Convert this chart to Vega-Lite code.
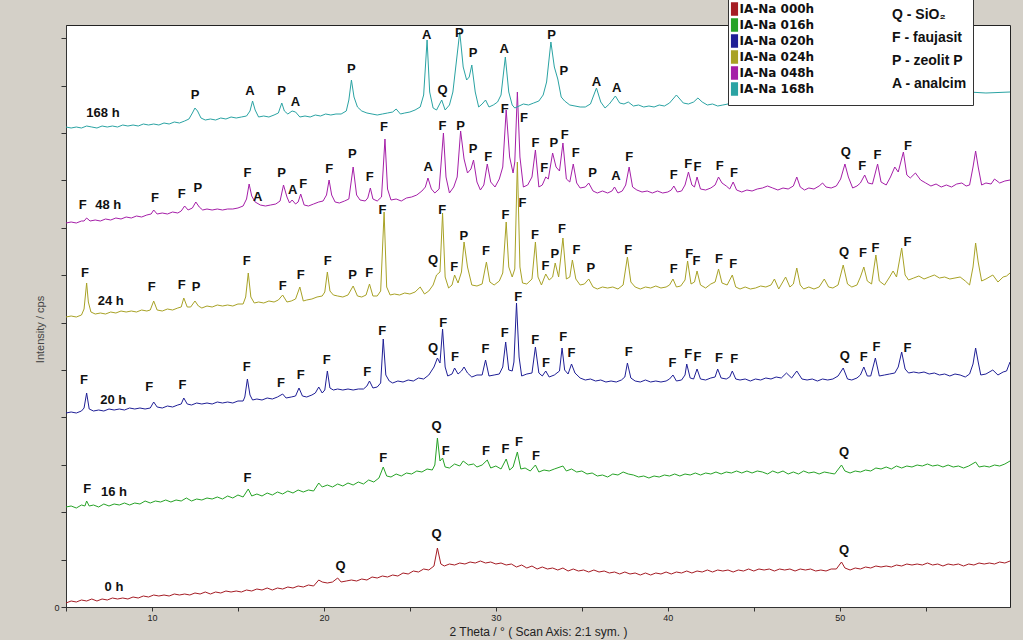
{
"$schema": "https://vega.github.io/schema/vega-lite/v6.json",
"width": 944, "height": 582,
"autosize": {"type": "none"},
"padding": {"left": 66, "top": 25, "right": 13, "bottom": 33},
"background": "#d4d0c8",
"config": {"view": {"fill": "white", "stroke": "#222", "strokeWidth": 1}},
"datasets": {
"d000": [{"x":5.0,"y":4},{"x":5.3,"y":6},{"x":5.6,"y":5},{"x":5.9,"y":7},{"x":6.2,"y":6},{"x":6.5,"y":8},{"x":6.8,"y":6},{"x":7.1,"y":8},{"x":7.4,"y":7},{"x":7.7,"y":9},{"x":8.0,"y":8},{"x":8.3,"y":9},{"x":8.6,"y":8},{"x":8.9,"y":10},{"x":9.2,"y":9},{"x":9.5,"y":11},{"x":9.8,"y":10},{"x":10.1,"y":12},{"x":10.4,"y":11},{"x":10.7,"y":12},{"x":11.0,"y":11},{"x":11.3,"y":13},{"x":11.6,"y":12},{"x":11.9,"y":13},{"x":12.2,"y":12},{"x":12.5,"y":14},{"x":12.8,"y":13},{"x":13.1,"y":15},{"x":13.4,"y":13},{"x":13.7,"y":15},{"x":14.0,"y":14},{"x":14.3,"y":16},{"x":14.6,"y":15},{"x":14.9,"y":16},{"x":15.2,"y":15},{"x":15.5,"y":17},{"x":15.8,"y":16},{"x":16.1,"y":18},{"x":16.4,"y":17},{"x":16.7,"y":19},{"x":17.0,"y":17},{"x":17.3,"y":19},{"x":17.6,"y":18},{"x":17.9,"y":20},{"x":18.2,"y":19},{"x":18.5,"y":21},{"x":18.8,"y":20},{"x":19.1,"y":22},{"x":19.4,"y":21},{"x":19.7,"y":27},{"x":19.9,"y":25},{"x":20.2,"y":24},{"x":20.5,"y":25},{"x":20.8,"y":29},{"x":21.0,"y":25},{"x":21.3,"y":26},{"x":21.6,"y":27},{"x":21.9,"y":26},{"x":22.2,"y":28},{"x":22.5,"y":27},{"x":22.8,"y":30},{"x":23.1,"y":29},{"x":23.4,"y":31},{"x":23.7,"y":30},{"x":24.0,"y":32},{"x":24.3,"y":31},{"x":24.6,"y":34},{"x":24.9,"y":33},{"x":25.2,"y":36},{"x":25.5,"y":35},{"x":25.8,"y":38},{"x":26.1,"y":37},{"x":26.4,"y":41},{"x":26.6,"y":59},{"x":26.8,"y":43},{"x":27.0,"y":41},{"x":27.3,"y":43},{"x":27.6,"y":42},{"x":27.9,"y":44},{"x":28.2,"y":43},{"x":28.5,"y":45},{"x":28.8,"y":44},{"x":29.1,"y":46},{"x":29.4,"y":44},{"x":29.7,"y":45},{"x":30.0,"y":43},{"x":30.3,"y":44},{"x":30.6,"y":42},{"x":30.9,"y":43},{"x":31.2,"y":40},{"x":31.5,"y":42},{"x":31.8,"y":39},{"x":32.1,"y":41},{"x":32.4,"y":38},{"x":32.7,"y":40},{"x":33.0,"y":38},{"x":33.3,"y":39},{"x":33.6,"y":37},{"x":33.9,"y":39},{"x":34.2,"y":36},{"x":34.5,"y":38},{"x":34.8,"y":36},{"x":35.1,"y":37},{"x":35.4,"y":35},{"x":35.7,"y":37},{"x":36.0,"y":35},{"x":36.3,"y":36},{"x":36.6,"y":34},{"x":36.9,"y":35},{"x":37.2,"y":33},{"x":37.5,"y":35},{"x":37.8,"y":33},{"x":38.1,"y":34},{"x":38.4,"y":32},{"x":38.7,"y":34},{"x":39.0,"y":32},{"x":39.3,"y":34},{"x":39.6,"y":33},{"x":39.9,"y":35},{"x":40.2,"y":33},{"x":40.5,"y":35},{"x":40.8,"y":34},{"x":41.1,"y":36},{"x":41.4,"y":34},{"x":41.7,"y":36},{"x":42.0,"y":35},{"x":42.3,"y":37},{"x":42.6,"y":35},{"x":42.9,"y":37},{"x":43.2,"y":36},{"x":43.5,"y":37},{"x":43.8,"y":35},{"x":44.1,"y":37},{"x":44.4,"y":36},{"x":44.7,"y":38},{"x":45.0,"y":36},{"x":45.3,"y":38},{"x":45.6,"y":37},{"x":45.9,"y":38},{"x":46.2,"y":36},{"x":46.5,"y":38},{"x":46.8,"y":37},{"x":47.1,"y":38},{"x":47.4,"y":36},{"x":47.7,"y":38},{"x":48.0,"y":37},{"x":48.3,"y":38},{"x":48.6,"y":36},{"x":48.9,"y":37},{"x":49.2,"y":36},{"x":49.5,"y":38},{"x":49.8,"y":38},{"x":50.1,"y":45},{"x":50.3,"y":39},{"x":50.6,"y":37},{"x":50.9,"y":39},{"x":51.2,"y":38},{"x":51.5,"y":40},{"x":51.8,"y":39},{"x":52.1,"y":41},{"x":52.4,"y":40},{"x":52.7,"y":41},{"x":53.0,"y":40},{"x":53.3,"y":42},{"x":53.6,"y":41},{"x":53.9,"y":43},{"x":54.2,"y":42},{"x":54.5,"y":43},{"x":54.8,"y":42},{"x":55.1,"y":44},{"x":55.4,"y":42},{"x":55.7,"y":43},{"x":56.0,"y":41},{"x":56.3,"y":43},{"x":56.6,"y":42},{"x":56.9,"y":43},{"x":57.2,"y":41},{"x":57.5,"y":43},{"x":57.8,"y":42},{"x":58.1,"y":44},{"x":58.4,"y":43},{"x":58.7,"y":44},{"x":59.0,"y":43},{"x":59.3,"y":45},{"x":59.6,"y":44},{"x":59.9,"y":46}],
"d016": [{"x":5.0,"y":100},{"x":5.3,"y":101},{"x":5.6,"y":99},{"x":5.9,"y":102},{"x":6.1,"y":101},{"x":6.2,"y":106},{"x":6.35,"y":101},{"x":6.6,"y":102},{"x":6.9,"y":100},{"x":7.2,"y":103},{"x":7.5,"y":101},{"x":7.8,"y":103},{"x":8.1,"y":102},{"x":8.4,"y":104},{"x":8.7,"y":102},{"x":9.0,"y":104},{"x":9.3,"y":103},{"x":9.6,"y":106},{"x":9.9,"y":104},{"x":10.2,"y":106},{"x":10.5,"y":105},{"x":10.8,"y":107},{"x":11.1,"y":105},{"x":11.4,"y":107},{"x":11.7,"y":106},{"x":12.0,"y":109},{"x":12.3,"y":106},{"x":12.6,"y":108},{"x":12.9,"y":107},{"x":13.2,"y":109},{"x":13.5,"y":108},{"x":13.8,"y":110},{"x":14.1,"y":108},{"x":14.4,"y":111},{"x":14.7,"y":109},{"x":15.0,"y":112},{"x":15.3,"y":110},{"x":15.6,"y":118},{"x":15.8,"y":111},{"x":16.1,"y":113},{"x":16.4,"y":111},{"x":16.7,"y":114},{"x":17.0,"y":112},{"x":17.3,"y":115},{"x":17.6,"y":113},{"x":17.9,"y":116},{"x":18.2,"y":114},{"x":18.5,"y":117},{"x":18.8,"y":115},{"x":19.1,"y":117},{"x":19.4,"y":116},{"x":19.7,"y":124},{"x":19.9,"y":120},{"x":20.2,"y":122},{"x":20.5,"y":120},{"x":20.8,"y":123},{"x":21.1,"y":121},{"x":21.4,"y":124},{"x":21.7,"y":122},{"x":22.0,"y":125},{"x":22.3,"y":123},{"x":22.6,"y":127},{"x":22.9,"y":125},{"x":23.2,"y":129},{"x":23.45,"y":140},{"x":23.65,"y":131},{"x":23.9,"y":130},{"x":24.2,"y":133},{"x":24.5,"y":131},{"x":24.8,"y":134},{"x":25.1,"y":133},{"x":25.4,"y":136},{"x":25.7,"y":135},{"x":26.0,"y":138},{"x":26.3,"y":137},{"x":26.45,"y":142},{"x":26.6,"y":169},{"x":26.75,"y":146},{"x":26.9,"y":149},{"x":27.05,"y":140},{"x":27.3,"y":139},{"x":27.6,"y":143},{"x":27.9,"y":141},{"x":28.1,"y":146},{"x":28.4,"y":142},{"x":28.7,"y":143},{"x":28.9,"y":140},{"x":29.2,"y":142},{"x":29.5,"y":147},{"x":29.7,"y":139},{"x":30.0,"y":141},{"x":30.3,"y":138},{"x":30.6,"y":148},{"x":30.8,"y":137},{"x":31.0,"y":140},{"x":31.25,"y":155},{"x":31.45,"y":138},{"x":31.7,"y":139},{"x":32.0,"y":136},{"x":32.3,"y":142},{"x":32.5,"y":135},{"x":32.8,"y":137},{"x":33.1,"y":136},{"x":33.4,"y":138},{"x":33.9,"y":141},{"x":34.1,"y":136},{"x":34.4,"y":138},{"x":34.7,"y":135},{"x":35.0,"y":136},{"x":35.3,"y":133},{"x":35.6,"y":134},{"x":35.9,"y":131},{"x":36.2,"y":132},{"x":36.5,"y":130},{"x":36.8,"y":133},{"x":37.1,"y":132},{"x":37.4,"y":135},{"x":37.7,"y":133},{"x":38.0,"y":132},{"x":38.3,"y":130},{"x":38.6,"y":131},{"x":38.9,"y":129},{"x":39.2,"y":131},{"x":39.5,"y":130},{"x":39.8,"y":132},{"x":40.1,"y":131},{"x":40.4,"y":133},{"x":40.7,"y":131},{"x":41.0,"y":133},{"x":41.3,"y":132},{"x":41.6,"y":134},{"x":41.9,"y":132},{"x":42.2,"y":134},{"x":42.5,"y":133},{"x":42.8,"y":135},{"x":43.1,"y":133},{"x":43.4,"y":135},{"x":43.7,"y":134},{"x":44.0,"y":136},{"x":44.3,"y":134},{"x":44.6,"y":136},{"x":44.9,"y":134},{"x":45.2,"y":136},{"x":45.5,"y":135},{"x":45.8,"y":133},{"x":46.1,"y":136},{"x":46.4,"y":134},{"x":46.7,"y":136},{"x":47.0,"y":133},{"x":47.3,"y":135},{"x":47.6,"y":133},{"x":47.9,"y":136},{"x":48.2,"y":134},{"x":48.5,"y":135},{"x":48.8,"y":133},{"x":49.1,"y":135},{"x":49.4,"y":134},{"x":49.7,"y":133},{"x":50.1,"y":142},{"x":50.3,"y":136},{"x":50.6,"y":134},{"x":50.9,"y":136},{"x":51.2,"y":135},{"x":51.5,"y":137},{"x":51.8,"y":136},{"x":52.1,"y":139},{"x":52.4,"y":138},{"x":52.7,"y":140},{"x":53.0,"y":138},{"x":53.3,"y":141},{"x":53.6,"y":139},{"x":53.9,"y":141},{"x":54.2,"y":140},{"x":54.5,"y":142},{"x":54.8,"y":141},{"x":55.1,"y":143},{"x":55.4,"y":141},{"x":55.7,"y":142},{"x":56.0,"y":140},{"x":56.3,"y":142},{"x":56.6,"y":140},{"x":56.9,"y":141},{"x":57.2,"y":139},{"x":57.5,"y":141},{"x":57.9,"y":145},{"x":58.1,"y":140},{"x":58.4,"y":141},{"x":58.7,"y":140},{"x":59.0,"y":142},{"x":59.3,"y":141},{"x":59.6,"y":143},{"x":59.9,"y":146}],
"d020": [{"x":5.0,"y":194},{"x":5.3,"y":195},{"x":5.6,"y":194},{"x":5.9,"y":196},{"x":6.05,"y":199},{"x":6.2,"y":214},{"x":6.35,"y":198},{"x":6.6,"y":196},{"x":6.9,"y":197},{"x":7.2,"y":196},{"x":7.5,"y":198},{"x":7.8,"y":197},{"x":8.1,"y":198},{"x":8.4,"y":197},{"x":8.7,"y":199},{"x":9.0,"y":198},{"x":9.3,"y":199},{"x":9.6,"y":198},{"x":9.9,"y":199},{"x":10.1,"y":205},{"x":10.3,"y":200},{"x":10.6,"y":199},{"x":10.9,"y":201},{"x":11.2,"y":200},{"x":11.5,"y":202},{"x":11.7,"y":203},{"x":11.85,"y":209},{"x":12.05,"y":203},{"x":12.3,"y":202},{"x":12.6,"y":204},{"x":12.9,"y":203},{"x":13.2,"y":204},{"x":13.5,"y":203},{"x":13.8,"y":205},{"x":14.1,"y":204},{"x":14.4,"y":205},{"x":14.7,"y":204},{"x":15.0,"y":206},{"x":15.3,"y":206},{"x":15.4,"y":210},{"x":15.55,"y":228},{"x":15.7,"y":212},{"x":15.85,"y":207},{"x":16.1,"y":208},{"x":16.4,"y":207},{"x":16.7,"y":209},{"x":17.0,"y":208},{"x":17.3,"y":210},{"x":17.6,"y":213},{"x":17.8,"y":209},{"x":18.1,"y":210},{"x":18.35,"y":211},{"x":18.55,"y":219},{"x":18.75,"y":211},{"x":19.0,"y":210},{"x":19.3,"y":212},{"x":19.5,"y":214},{"x":19.7,"y":220},{"x":19.9,"y":214},{"x":20.05,"y":217},{"x":20.2,"y":236},{"x":20.35,"y":219},{"x":20.55,"y":217},{"x":20.8,"y":218},{"x":21.1,"y":217},{"x":21.4,"y":218},{"x":21.7,"y":217},{"x":22.0,"y":218},{"x":22.3,"y":218},{"x":22.5,"y":221},{"x":22.65,"y":226},{"x":22.85,"y":219},{"x":23.1,"y":220},{"x":23.3,"y":224},{"x":23.45,"y":268},{"x":23.6,"y":232},{"x":23.8,"y":226},{"x":24.0,"y":224},{"x":24.3,"y":226},{"x":24.6,"y":225},{"x":24.9,"y":227},{"x":25.2,"y":226},{"x":25.5,"y":229},{"x":25.8,"y":228},{"x":26.1,"y":232},{"x":26.4,"y":240},{"x":26.6,"y":249},{"x":26.75,"y":244},{"x":26.9,"y":278},{"x":27.05,"y":240},{"x":27.2,"y":231},{"x":27.45,"y":233},{"x":27.6,"y":239},{"x":27.8,"y":233},{"x":28.0,"y":236},{"x":28.15,"y":240},{"x":28.35,"y":234},{"x":28.6,"y":230},{"x":28.9,"y":232},{"x":29.2,"y":232},{"x":29.4,"y":247},{"x":29.6,"y":231},{"x":29.9,"y":232},{"x":30.2,"y":233},{"x":30.4,"y":240},{"x":30.57,"y":265},{"x":30.75,"y":237},{"x":30.95,"y":236},{"x":31.05,"y":245},{"x":31.2,"y":304},{"x":31.35,"y":250},{"x":31.5,"y":231},{"x":31.8,"y":233},{"x":32.1,"y":234},{"x":32.3,"y":260},{"x":32.5,"y":234},{"x":32.7,"y":231},{"x":32.9,"y":236},{"x":33.1,"y":230},{"x":33.4,"y":232},{"x":33.7,"y":236},{"x":33.85,"y":259},{"x":34.0,"y":237},{"x":34.2,"y":233},{"x":34.4,"y":243},{"x":34.6,"y":234},{"x":34.9,"y":229},{"x":35.2,"y":227},{"x":35.5,"y":228},{"x":35.8,"y":226},{"x":36.1,"y":227},{"x":36.4,"y":225},{"x":36.7,"y":226},{"x":37.0,"y":225},{"x":37.3,"y":227},{"x":37.5,"y":230},{"x":37.65,"y":244},{"x":37.85,"y":229},{"x":38.1,"y":226},{"x":38.4,"y":225},{"x":38.7,"y":227},{"x":39.0,"y":225},{"x":39.3,"y":226},{"x":39.6,"y":225},{"x":39.9,"y":226},{"x":40.1,"y":228},{"x":40.3,"y":232},{"x":40.5,"y":226},{"x":40.8,"y":227},{"x":41.0,"y":232},{"x":41.1,"y":243},{"x":41.3,"y":229},{"x":41.5,"y":228},{"x":41.7,"y":238},{"x":41.9,"y":228},{"x":42.2,"y":227},{"x":42.5,"y":229},{"x":42.75,"y":230},{"x":42.9,"y":238},{"x":43.1,"y":229},{"x":43.4,"y":228},{"x":43.6,"y":230},{"x":43.75,"y":236},{"x":43.95,"y":228},{"x":44.2,"y":227},{"x":44.5,"y":228},{"x":44.8,"y":226},{"x":45.1,"y":228},{"x":45.4,"y":227},{"x":45.7,"y":229},{"x":46.0,"y":228},{"x":46.3,"y":230},{"x":46.6,"y":229},{"x":46.9,"y":234},{"x":47.2,"y":229},{"x":47.5,"y":236},{"x":47.8,"y":228},{"x":48.1,"y":227},{"x":48.4,"y":228},{"x":48.7,"y":226},{"x":49.0,"y":228},{"x":49.3,"y":227},{"x":49.6,"y":228},{"x":49.9,"y":231},{"x":50.2,"y":239},{"x":50.45,"y":228},{"x":50.7,"y":227},{"x":51.0,"y":229},{"x":51.2,"y":232},{"x":51.4,"y":240},{"x":51.6,"y":231},{"x":51.8,"y":231},{"x":52.07,"y":249},{"x":52.3,"y":231},{"x":52.6,"y":232},{"x":52.9,"y":233},{"x":53.2,"y":234},{"x":53.4,"y":240},{"x":53.6,"y":255},{"x":53.8,"y":238},{"x":54.0,"y":234},{"x":54.3,"y":235},{"x":54.6,"y":234},{"x":54.9,"y":235},{"x":55.2,"y":233},{"x":55.5,"y":234},{"x":55.8,"y":232},{"x":56.1,"y":233},{"x":56.4,"y":231},{"x":56.7,"y":233},{"x":57.0,"y":232},{"x":57.3,"y":230},{"x":57.55,"y":233},{"x":57.75,"y":243},{"x":57.9,"y":259},{"x":58.05,"y":245},{"x":58.2,"y":232},{"x":58.5,"y":233},{"x":58.9,"y":237},{"x":59.2,"y":232},{"x":59.5,"y":235},{"x":59.7,"y":236},{"x":59.9,"y":245}],
"d024": [{"x":5.0,"y":290},{"x":5.3,"y":291},{"x":5.6,"y":290},{"x":5.9,"y":292},{"x":6.05,"y":298},{"x":6.2,"y":324},{"x":6.3,"y":305},{"x":6.45,"y":295},{"x":6.7,"y":293},{"x":7.0,"y":294},{"x":7.3,"y":293},{"x":7.6,"y":295},{"x":7.9,"y":294},{"x":8.2,"y":296},{"x":8.5,"y":295},{"x":8.8,"y":296},{"x":9.1,"y":295},{"x":9.4,"y":297},{"x":9.7,"y":296},{"x":9.9,"y":297},{"x":10.1,"y":306},{"x":10.3,"y":297},{"x":10.6,"y":296},{"x":10.9,"y":298},{"x":11.2,"y":297},{"x":11.5,"y":299},{"x":11.7,"y":300},{"x":11.85,"y":309},{"x":12.05,"y":300},{"x":12.25,"y":300},{"x":12.5,"y":306},{"x":12.7,"y":301},{"x":12.9,"y":299},{"x":13.2,"y":301},{"x":13.5,"y":300},{"x":13.8,"y":302},{"x":14.1,"y":301},{"x":14.4,"y":302},{"x":14.7,"y":301},{"x":15.0,"y":303},{"x":15.3,"y":303},{"x":15.45,"y":310},{"x":15.6,"y":334},{"x":15.75,"y":310},{"x":15.95,"y":304},{"x":16.2,"y":305},{"x":16.5,"y":304},{"x":16.8,"y":306},{"x":17.1,"y":305},{"x":17.35,"y":307},{"x":17.6,"y":312},{"x":17.85,"y":305},{"x":18.1,"y":306},{"x":18.35,"y":308},{"x":18.6,"y":320},{"x":18.8,"y":306},{"x":19.0,"y":307},{"x":19.3,"y":308},{"x":19.6,"y":310},{"x":19.9,"y":311},{"x":20.05,"y":315},{"x":20.2,"y":335},{"x":20.35,"y":316},{"x":20.55,"y":312},{"x":20.8,"y":311},{"x":21.1,"y":310},{"x":21.4,"y":312},{"x":21.7,"y":321},{"x":21.95,"y":311},{"x":22.2,"y":310},{"x":22.45,"y":312},{"x":22.65,"y":323},{"x":22.85,"y":311},{"x":23.1,"y":311},{"x":23.3,"y":316},{"x":23.5,"y":395},{"x":23.65,"y":320},{"x":23.85,"y":312},{"x":24.1,"y":313},{"x":24.4,"y":312},{"x":24.7,"y":314},{"x":25.0,"y":313},{"x":25.3,"y":315},{"x":25.6,"y":320},{"x":25.85,"y":313},{"x":26.1,"y":316},{"x":26.35,"y":322},{"x":26.55,"y":332},{"x":26.75,"y":335},{"x":26.9,"y":394},{"x":27.05,"y":330},{"x":27.25,"y":319},{"x":27.45,"y":322},{"x":27.6,"y":332},{"x":27.8,"y":324},{"x":28.0,"y":335},{"x":28.15,"y":365},{"x":28.35,"y":340},{"x":28.6,"y":322},{"x":28.9,"y":321},{"x":29.2,"y":323},{"x":29.45,"y":345},{"x":29.65,"y":325},{"x":29.9,"y":322},{"x":30.2,"y":326},{"x":30.4,"y":334},{"x":30.6,"y":385},{"x":30.75,"y":340},{"x":30.95,"y":330},{"x":31.1,"y":338},{"x":31.25,"y":445},{"x":31.4,"y":340},{"x":31.55,"y":324},{"x":31.8,"y":323},{"x":32.1,"y":328},{"x":32.3,"y":365},{"x":32.45,"y":330},{"x":32.65,"y":322},{"x":32.9,"y":333},{"x":33.1,"y":327},{"x":33.3,"y":330},{"x":33.45,"y":344},{"x":33.65,"y":330},{"x":33.9,"y":369},{"x":34.1,"y":328},{"x":34.3,"y":330},{"x":34.45,"y":347},{"x":34.65,"y":328},{"x":34.9,"y":322},{"x":35.15,"y":323},{"x":35.4,"y":328},{"x":35.65,"y":320},{"x":35.9,"y":318},{"x":36.2,"y":320},{"x":36.5,"y":319},{"x":36.8,"y":320},{"x":37.1,"y":318},{"x":37.4,"y":322},{"x":37.65,"y":350},{"x":37.85,"y":325},{"x":38.1,"y":320},{"x":38.4,"y":318},{"x":38.7,"y":320},{"x":39.0,"y":319},{"x":39.3,"y":321},{"x":39.6,"y":319},{"x":39.9,"y":320},{"x":40.1,"y":322},{"x":40.3,"y":328},{"x":40.5,"y":320},{"x":40.75,"y":321},{"x":41.0,"y":327},{"x":41.15,"y":346},{"x":41.35,"y":323},{"x":41.55,"y":325},{"x":41.7,"y":336},{"x":41.9,"y":322},{"x":42.2,"y":319},{"x":42.5,"y":323},{"x":42.75,"y":325},{"x":42.95,"y":338},{"x":43.15,"y":324},{"x":43.45,"y":322},{"x":43.75,"y":332},{"x":43.95,"y":320},{"x":44.2,"y":318},{"x":44.5,"y":320},{"x":44.8,"y":318},{"x":45.1,"y":319},{"x":45.4,"y":321},{"x":45.7,"y":320},{"x":46.0,"y":322},{"x":46.2,"y":328},{"x":46.45,"y":318},{"x":46.85,"y":330},{"x":47.1,"y":320},{"x":47.3,"y":323},{"x":47.5,"y":339},{"x":47.7,"y":322},{"x":47.9,"y":318},{"x":48.2,"y":320},{"x":48.5,"y":318},{"x":48.8,"y":320},{"x":49.1,"y":328},{"x":49.35,"y":320},{"x":49.6,"y":319},{"x":49.9,"y":322},{"x":50.2,"y":342},{"x":50.45,"y":323},{"x":50.7,"y":320},{"x":51.0,"y":322},{"x":51.2,"y":330},{"x":51.4,"y":340},{"x":51.6,"y":326},{"x":51.85,"y":323},{"x":52.1,"y":352},{"x":52.3,"y":326},{"x":52.6,"y":322},{"x":52.9,"y":330},{"x":53.1,"y":336},{"x":53.3,"y":330},{"x":53.6,"y":359},{"x":53.8,"y":332},{"x":54.0,"y":327},{"x":54.3,"y":329},{"x":54.6,"y":331},{"x":54.9,"y":328},{"x":55.2,"y":330},{"x":55.5,"y":332},{"x":55.8,"y":329},{"x":56.1,"y":330},{"x":56.4,"y":328},{"x":56.7,"y":329},{"x":57.0,"y":330},{"x":57.3,"y":326},{"x":57.55,"y":322},{"x":57.75,"y":340},{"x":57.9,"y":364},{"x":58.05,"y":345},{"x":58.25,"y":326},{"x":58.5,"y":328},{"x":58.9,"y":332},{"x":59.2,"y":325},{"x":59.5,"y":330},{"x":59.7,"y":331},{"x":59.9,"y":334}],
"d048": [{"x":5.0,"y":384},{"x":5.3,"y":385},{"x":5.6,"y":384},{"x":5.9,"y":386},{"x":6.05,"y":386},{"x":6.2,"y":389},{"x":6.4,"y":386},{"x":6.7,"y":387},{"x":7.0,"y":386},{"x":7.3,"y":388},{"x":7.6,"y":387},{"x":7.9,"y":389},{"x":8.2,"y":388},{"x":8.5,"y":390},{"x":8.8,"y":389},{"x":9.1,"y":391},{"x":9.4,"y":390},{"x":9.7,"y":392},{"x":9.95,"y":393},{"x":10.1,"y":397},{"x":10.3,"y":393},{"x":10.6,"y":394},{"x":10.9,"y":393},{"x":11.2,"y":395},{"x":11.5,"y":394},{"x":11.7,"y":396},{"x":11.9,"y":401},{"x":12.1,"y":397},{"x":12.35,"y":399},{"x":12.55,"y":405},{"x":12.75,"y":400},{"x":12.95,"y":397},{"x":13.2,"y":398},{"x":13.5,"y":397},{"x":13.8,"y":398},{"x":14.1,"y":397},{"x":14.4,"y":398},{"x":14.7,"y":398},{"x":15.0,"y":399},{"x":15.3,"y":401},{"x":15.5,"y":408},{"x":15.65,"y":423},{"x":15.8,"y":411},{"x":16.0,"y":405},{"x":16.3,"y":402},{"x":16.6,"y":401},{"x":16.9,"y":402},{"x":17.2,"y":403},{"x":17.45,"y":406},{"x":17.65,"y":422},{"x":17.85,"y":410},{"x":18.0,"y":404},{"x":18.15,"y":407},{"x":18.35,"y":403},{"x":18.5,"y":405},{"x":18.65,"y":413},{"x":18.85,"y":402},{"x":19.1,"y":401},{"x":19.4,"y":403},{"x":19.7,"y":405},{"x":19.95,"y":406},{"x":20.15,"y":412},{"x":20.3,"y":427},{"x":20.45,"y":412},{"x":20.65,"y":405},{"x":20.9,"y":404},{"x":21.2,"y":406},{"x":21.45,"y":408},{"x":21.7,"y":440},{"x":21.9,"y":412},{"x":22.1,"y":407},{"x":22.4,"y":406},{"x":22.55,"y":409},{"x":22.7,"y":419},{"x":22.85,"y":408},{"x":23.1,"y":406},{"x":23.35,"y":410},{"x":23.55,"y":468},{"x":23.7,"y":418},{"x":23.9,"y":407},{"x":24.2,"y":408},{"x":24.5,"y":406},{"x":24.8,"y":409},{"x":25.1,"y":410},{"x":25.4,"y":412},{"x":25.7,"y":416},{"x":25.9,"y":420},{"x":26.05,"y":429},{"x":26.25,"y":418},{"x":26.45,"y":414},{"x":26.7,"y":418},{"x":26.95,"y":474},{"x":27.1,"y":430},{"x":27.3,"y":414},{"x":27.55,"y":420},{"x":27.75,"y":430},{"x":27.95,"y":476},{"x":28.15,"y":448},{"x":28.35,"y":434},{"x":28.55,"y":438},{"x":28.7,"y":447},{"x":28.9,"y":425},{"x":29.1,"y":417},{"x":29.3,"y":422},{"x":29.5,"y":443},{"x":29.7,"y":425},{"x":29.95,"y":420},{"x":30.2,"y":428},{"x":30.4,"y":440},{"x":30.6,"y":497},{"x":30.8,"y":450},{"x":31.0,"y":434},{"x":31.1,"y":445},{"x":31.25,"y":515},{"x":31.4,"y":450},{"x":31.6,"y":420},{"x":31.85,"y":422},{"x":32.1,"y":430},{"x":32.3,"y":457},{"x":32.5,"y":420},{"x":32.7,"y":422},{"x":32.9,"y":430},{"x":33.05,"y":428},{"x":33.3,"y":454},{"x":33.5,"y":440},{"x":33.7,"y":436},{"x":33.9,"y":464},{"x":34.1,"y":428},{"x":34.3,"y":425},{"x":34.5,"y":443},{"x":34.7,"y":424},{"x":34.9,"y":419},{"x":35.2,"y":420},{"x":35.4,"y":424},{"x":35.65,"y":416},{"x":35.9,"y":414},{"x":36.2,"y":416},{"x":36.5,"y":414},{"x":36.75,"y":416},{"x":36.9,"y":420},{"x":37.1,"y":414},{"x":37.35,"y":416},{"x":37.55,"y":422},{"x":37.75,"y":440},{"x":37.95,"y":420},{"x":38.2,"y":417},{"x":38.5,"y":415},{"x":38.8,"y":416},{"x":39.1,"y":414},{"x":39.4,"y":416},{"x":39.7,"y":414},{"x":40.0,"y":415},{"x":40.2,"y":417},{"x":40.35,"y":421},{"x":40.55,"y":415},{"x":40.8,"y":416},{"x":41.0,"y":422},{"x":41.2,"y":435},{"x":41.4,"y":422},{"x":41.55,"y":420},{"x":41.7,"y":430},{"x":41.9,"y":418},{"x":42.2,"y":417},{"x":42.5,"y":419},{"x":42.75,"y":422},{"x":42.95,"y":430},{"x":43.15,"y":424},{"x":43.4,"y":421},{"x":43.6,"y":418},{"x":43.8,"y":425},{"x":44.0,"y":417},{"x":44.3,"y":415},{"x":44.6,"y":417},{"x":44.9,"y":416},{"x":45.2,"y":418},{"x":45.5,"y":419},{"x":45.8,"y":421},{"x":46.1,"y":419},{"x":46.4,"y":417},{"x":46.7,"y":419},{"x":47.0,"y":418},{"x":47.3,"y":421},{"x":47.5,"y":430},{"x":47.7,"y":420},{"x":47.95,"y":417},{"x":48.2,"y":419},{"x":48.5,"y":418},{"x":48.8,"y":421},{"x":49.0,"y":424},{"x":49.2,"y":420},{"x":49.5,"y":419},{"x":49.8,"y":421},{"x":50.05,"y":428},{"x":50.3,"y":443},{"x":50.5,"y":430},{"x":50.75,"y":419},{"x":51.0,"y":421},{"x":51.2,"y":424},{"x":51.45,"y":432},{"x":51.65,"y":424},{"x":51.9,"y":423},{"x":52.2,"y":443},{"x":52.4,"y":425},{"x":52.7,"y":422},{"x":52.95,"y":430},{"x":53.2,"y":440},{"x":53.4,"y":435},{"x":53.7,"y":455},{"x":53.9,"y":432},{"x":54.1,"y":429},{"x":54.4,"y":434},{"x":54.7,"y":427},{"x":55.0,"y":424},{"x":55.3,"y":421},{"x":55.6,"y":423},{"x":55.9,"y":420},{"x":56.2,"y":422},{"x":56.5,"y":420},{"x":56.8,"y":423},{"x":57.1,"y":424},{"x":57.35,"y":421},{"x":57.55,"y":422},{"x":57.75,"y":440},{"x":57.9,"y":456},{"x":58.05,"y":440},{"x":58.25,"y":422},{"x":58.5,"y":424},{"x":58.8,"y":423},{"x":59.0,"y":428},{"x":59.3,"y":424},{"x":59.6,"y":426},{"x":59.9,"y":427}],
"d168": [{"x":5.0,"y":480},{"x":5.3,"y":479},{"x":5.6,"y":480},{"x":5.9,"y":479},{"x":6.2,"y":481},{"x":6.5,"y":480},{"x":6.8,"y":479},{"x":7.1,"y":481},{"x":7.4,"y":480},{"x":7.7,"y":481},{"x":8.0,"y":480},{"x":8.3,"y":482},{"x":8.6,"y":481},{"x":8.9,"y":482},{"x":9.2,"y":481},{"x":9.5,"y":483},{"x":9.8,"y":482},{"x":10.1,"y":483},{"x":10.4,"y":482},{"x":10.7,"y":484},{"x":11.0,"y":483},{"x":11.3,"y":485},{"x":11.6,"y":484},{"x":11.9,"y":486},{"x":12.15,"y":488},{"x":12.35,"y":494},{"x":12.5,"y":499},{"x":12.65,"y":496},{"x":12.85,"y":489},{"x":13.1,"y":487},{"x":13.4,"y":488},{"x":13.7,"y":487},{"x":14.0,"y":489},{"x":14.3,"y":488},{"x":14.6,"y":490},{"x":14.9,"y":489},{"x":15.2,"y":490},{"x":15.5,"y":491},{"x":15.7,"y":496},{"x":15.85,"y":506},{"x":16.0,"y":497},{"x":16.2,"y":490},{"x":16.5,"y":491},{"x":16.8,"y":490},{"x":17.1,"y":492},{"x":17.35,"y":494},{"x":17.55,"y":504},{"x":17.7,"y":496},{"x":17.9,"y":493},{"x":18.15,"y":496},{"x":18.35,"y":495},{"x":18.6,"y":490},{"x":18.9,"y":491},{"x":19.2,"y":490},{"x":19.5,"y":492},{"x":19.8,"y":491},{"x":20.1,"y":493},{"x":20.4,"y":492},{"x":20.7,"y":493},{"x":21.0,"y":493},{"x":21.3,"y":496},{"x":21.45,"y":507},{"x":21.6,"y":527},{"x":21.75,"y":510},{"x":21.95,"y":500},{"x":22.2,"y":496},{"x":22.5,"y":494},{"x":22.8,"y":493},{"x":23.1,"y":492},{"x":23.4,"y":493},{"x":23.7,"y":494},{"x":24.0,"y":495},{"x":24.2,"y":498},{"x":24.45,"y":493},{"x":24.7,"y":494},{"x":25.0,"y":495},{"x":25.3,"y":497},{"x":25.6,"y":500},{"x":25.8,"y":512},{"x":26.0,"y":567},{"x":26.15,"y":515},{"x":26.35,"y":499},{"x":26.55,"y":497},{"x":26.85,"y":507},{"x":27.05,"y":497},{"x":27.3,"y":502},{"x":27.5,"y":515},{"x":27.7,"y":545},{"x":27.9,"y":575},{"x":28.1,"y":540},{"x":28.3,"y":527},{"x":28.45,"y":530},{"x":28.6,"y":542},{"x":28.8,"y":515},{"x":29.0,"y":500},{"x":29.2,"y":503},{"x":29.4,"y":507},{"x":29.6,"y":500},{"x":29.85,"y":502},{"x":30.1,"y":505},{"x":30.3,"y":512},{"x":30.55,"y":550},{"x":30.75,"y":515},{"x":30.95,"y":502},{"x":31.1,"y":499},{"x":31.35,"y":501},{"x":31.6,"y":503},{"x":31.9,"y":502},{"x":32.2,"y":504},{"x":32.5,"y":506},{"x":32.75,"y":512},{"x":32.95,"y":525},{"x":33.2,"y":565},{"x":33.4,"y":540},{"x":33.6,"y":528},{"x":33.8,"y":510},{"x":34.0,"y":506},{"x":34.3,"y":502},{"x":34.6,"y":501},{"x":34.9,"y":500},{"x":35.2,"y":500},{"x":35.5,"y":503},{"x":35.85,"y":519},{"x":36.1,"y":505},{"x":36.35,"y":499},{"x":36.6,"y":503},{"x":36.95,"y":511},{"x":37.2,"y":504},{"x":37.45,"y":503},{"x":37.7,"y":505},{"x":38.0,"y":501},{"x":38.3,"y":502},{"x":38.6,"y":500},{"x":38.9,"y":501},{"x":39.2,"y":500},{"x":39.5,"y":502},{"x":39.8,"y":501},{"x":40.1,"y":504},{"x":40.3,"y":508},{"x":40.5,"y":512},{"x":40.7,"y":508},{"x":40.9,"y":504},{"x":41.2,"y":503},{"x":41.5,"y":505},{"x":41.75,"y":509},{"x":42.0,"y":505},{"x":42.3,"y":502},{"x":42.6,"y":503},{"x":42.9,"y":501},{"x":43.2,"y":502},{"x":43.5,"y":503},{"x":43.7,"y":508},{"x":43.9,"y":511},{"x":44.5,"y":512},{"x":45.5,"y":513},{"x":46.5,"y":512},{"x":47.5,"y":514},{"x":48.5,"y":513},{"x":49.5,"y":514},{"x":50.5,"y":513},{"x":51.5,"y":514},{"x":52.5,"y":513},{"x":53.5,"y":515},{"x":54.5,"y":514},{"x":55.5,"y":515},{"x":56.5,"y":514},{"x":57.5,"y":515},{"x":58.5,"y":514},{"x":59.9,"y":515}],
"labels": [
{"x":7.15,"y":494,"t":"168 h"},{"x":12.5,"y":512,"t":"P"},{"x":15.7,"y":516,"t":"A"},{"x":17.54,"y":516,"t":"P"},{"x":18.35,"y":505,"t":"A"},{"x":21.6,"y":538,"t":"P"},{"x":25.97,"y":572,"t":"A"},{"x":26.9,"y":517,"t":"Q"},{"x":27.87,"y":574,"t":"P"},{"x":28.68,"y":554,"t":"P"},{"x":30.48,"y":558,"t":"A"},{"x":33.24,"y":572,"t":"P"},{"x":33.95,"y":536,"t":"P"},{"x":35.85,"y":525,"t":"A"},{"x":37.02,"y":519,"t":"A"},
{"x":5.97,"y":402,"t":"F"},{"x":7.46,"y":402,"t":"48 h"},{"x":10.17,"y":409,"t":"F"},{"x":11.73,"y":413,"t":"F"},{"x":12.66,"y":419,"t":"P"},{"x":15.56,"y":434,"t":"F"},{"x":16.15,"y":410,"t":"A"},{"x":17.54,"y":434,"t":"P"},{"x":18.18,"y":417,"t":"A"},{"x":18.8,"y":423,"t":"F"},{"x":20.31,"y":438,"t":"F"},{"x":21.65,"y":453,"t":"P"},{"x":22.67,"y":430,"t":"F"},{"x":23.49,"y":480,"t":"F"},{"x":26.06,"y":440,"t":"A"},{"x":26.9,"y":481,"t":"F"},{"x":27.95,"y":481,"t":"P"},{"x":28.68,"y":458,"t":"P"},{"x":29.55,"y":450,"t":"F"},{"x":30.52,"y":498,"t":"F"},{"x":31.63,"y":489,"t":"F"},{"x":32.31,"y":464,"t":"F"},{"x":32.81,"y":439,"t":"F"},{"x":33.37,"y":464,"t":"P"},{"x":34.01,"y":472,"t":"F"},{"x":34.65,"y":454,"t":"F"},{"x":35.62,"y":434,"t":"P"},{"x":36.98,"y":431,"t":"A"},{"x":37.75,"y":450,"t":"F"},{"x":40.35,"y":432,"t":"F"},{"x":41.18,"y":443,"t":"F"},{"x":41.73,"y":440,"t":"F"},{"x":43.02,"y":441,"t":"F"},{"x":43.84,"y":434,"t":"F"},{"x":50.35,"y":455,"t":"Q"},{"x":51.3,"y":441,"t":"F"},{"x":52.19,"y":452,"t":"F"},{"x":53.97,"y":461,"t":"F"},
{"x":6.1,"y":334,"t":"F"},{"x":7.6,"y":306,"t":"24 h"},{"x":9.98,"y":320,"t":"F"},{"x":11.73,"y":322,"t":"F"},{"x":12.56,"y":320,"t":"P"},{"x":15.51,"y":346,"t":"F"},{"x":17.6,"y":321,"t":"F"},{"x":18.65,"y":332,"t":"F"},{"x":20.22,"y":346,"t":"F"},{"x":21.67,"y":332,"t":"P"},{"x":22.63,"y":334,"t":"F"},{"x":23.41,"y":397,"t":"F"},{"x":26.35,"y":347,"t":"Q"},{"x":26.88,"y":397,"t":"F"},{"x":27.58,"y":340,"t":"F"},{"x":28.14,"y":371,"t":"P"},{"x":29.42,"y":356,"t":"F"},{"x":30.56,"y":392,"t":"F"},{"x":31.55,"y":404,"t":"F"},{"x":32.27,"y":372,"t":"F"},{"x":32.89,"y":341,"t":"F"},{"x":33.43,"y":353,"t":"P"},{"x":33.85,"y":378,"t":"F"},{"x":34.69,"y":357,"t":"F"},{"x":35.52,"y":339,"t":"P"},{"x":37.69,"y":357,"t":"F"},{"x":40.35,"y":338,"t":"F"},{"x":41.24,"y":353,"t":"F"},{"x":41.67,"y":346,"t":"F"},{"x":42.98,"y":348,"t":"F"},{"x":43.8,"y":343,"t":"F"},{"x":50.25,"y":355,"t":"Q"},{"x":51.35,"y":354,"t":"F"},{"x":52.08,"y":359,"t":"F"},{"x":53.94,"y":365,"t":"F"},
{"x":6.05,"y":227,"t":"F"},{"x":7.75,"y":207,"t":"20 h"},{"x":9.84,"y":220,"t":"F"},{"x":11.78,"y":222,"t":"F"},{"x":15.51,"y":240,"t":"F"},{"x":17.5,"y":224,"t":"F"},{"x":18.65,"y":232,"t":"F"},{"x":20.16,"y":247,"t":"F"},{"x":22.52,"y":235,"t":"F"},{"x":23.39,"y":276,"t":"F"},{"x":26.35,"y":259,"t":"Q"},{"x":26.94,"y":284,"t":"F"},{"x":27.62,"y":250,"t":"F"},{"x":29.4,"y":258,"t":"F"},{"x":30.52,"y":274,"t":"F"},{"x":31.3,"y":310,"t":"F"},{"x":32.29,"y":267,"t":"F"},{"x":32.91,"y":244,"t":"F"},{"x":33.91,"y":270,"t":"F"},{"x":34.4,"y":254,"t":"F"},{"x":37.73,"y":255,"t":"F"},{"x":40.27,"y":244,"t":"F"},{"x":41.18,"y":253,"t":"F"},{"x":41.73,"y":250,"t":"F"},{"x":42.98,"y":249,"t":"F"},{"x":43.86,"y":248,"t":"F"},{"x":50.29,"y":251,"t":"Q"},{"x":51.4,"y":250,"t":"F"},{"x":52.13,"y":260,"t":"F"},{"x":53.94,"y":259,"t":"F"},
{"x":6.24,"y":118,"t":"F"},{"x":7.79,"y":115,"t":"16 h"},{"x":15.56,"y":129,"t":"F"},{"x":23.45,"y":149,"t":"F"},{"x":26.55,"y":181,"t":"Q"},{"x":27.08,"y":156,"t":"F"},{"x":29.42,"y":156,"t":"F"},{"x":30.56,"y":158,"t":"F"},{"x":31.35,"y":165,"t":"F"},{"x":32.33,"y":151,"t":"F"},{"x":50.25,"y":155,"t":"Q"},
{"x":7.79,"y":20,"t":"0 h"},{"x":20.97,"y":41,"t":"Q"},{"x":26.55,"y":73,"t":"Q"},{"x":50.25,"y":57,"t":"Q"}
]
},
"encoding": {
"x": {"field": "x", "type": "quantitative",
  "scale": {"domain": [5, 59.9], "nice": false, "zero": false},
  "axis": {"values": [5,10,15,20,25,30,35,40,45,50,55], "labelExpr": "datum.value % 10 == 0 ? datum.label : ''", "grid": false, "domainColor": "#333", "tickColor": "#333", "tickSize": 4, "labelFont": "Liberation Sans", "labelFontSize": 9, "labelColor": "#222", "labelPadding": 2, "title": "2 Theta / °   ( Scan Axis: 2:1 sym. )", "titleFont": "Liberation Sans", "titleFontSize": 12, "titleFontWeight": "normal", "titleColor": "#222", "titlePadding": 4}},
"y": {"field": "y", "type": "quantitative",
  "scale": {"domain": [0, 582], "nice": false, "zero": true},
  "axis": {"values": [0,47.4,94.8,142.2,189.6,237,284.4,331.8,379.2,426.6,474,521.4,568.8], "labelExpr": "datum.value == 0 ? '0' : ''", "grid": false, "domainColor": "#333", "tickColor": "#333", "tickSize": 5, "labelFont": "Liberation Sans", "labelFontSize": 9, "labelColor": "#222", "labelPadding": 2, "title": "Intensity / cps", "titleFont": "Liberation Sans", "titleFontSize": 11, "titleFontWeight": "normal", "titleColor": "#444", "titlePadding": 8, "titleY": 304}}
},
"layer": [
{"data": {"name": "d000"}, "mark": {"type": "line", "strokeWidth": 1, "clip": true},
 "encoding": {"color": {"datum": "000", "type": "nominal",
   "scale": {"domain": ["000","016","020","024","048","168"], "range": ["#a51c24","#26a226","#1f1f96","#a8a226","#a51fa8","#2aa3a3"]},
   "legend": {"orient": "none", "legendX": 662, "legendY": -28, "direction": "vertical", "fillColor": "white", "strokeColor": "#333", "padding": 6,
     "symbolType": "M-0.75,-1.8L-0.75,1.8M-0.45,-1.8L-0.45,1.8M-0.15,-1.8L-0.15,1.8M0.15,-1.8L0.15,1.8M0.45,-1.8L0.45,1.8M0.75,-1.8L0.75,1.8", "symbolSize": 56.25, "symbolStrokeWidth": 1.5, "symbolOpacity": 1, "symbolOffset": -5.5,
     "labelExpr": "'IA-Na ' + datum.label + 'h'", "labelFont": "DejaVu Sans", "labelFontSize": 12, "labelFontWeight": "bold", "labelColor": "#111", "labelOffset": -1, "rowPadding": -8,
     "title": ["Q - SiO₂\u00a0\u00a0\u00a0\u00a0\u00a0\u00a0\u00a0\u00a0\u00a0\u00a0\u00a0\u00a0\u00a0\u00a0\u00a0\u00a0\u00a0\u00a0", "F - faujasit", "P - zeolit P", "A - analcim"], "titleOrient": "right", "titleFont": "Liberation Sans", "titleFontSize": 14, "titleFontWeight": "bold", "titleLineHeight": 23, "titlePadding": 78, "titleColor": "#111", "titleAnchor": "start", "titleBaseline": "line-top", "titleAlign": "left"}}}},
{"data": {"name": "d016"}, "mark": {"type": "line", "strokeWidth": 1, "clip": true}, "encoding": {"color": {"datum": "016", "type": "nominal"}}},
{"data": {"name": "d020"}, "mark": {"type": "line", "strokeWidth": 1, "clip": true}, "encoding": {"color": {"datum": "020", "type": "nominal"}}},
{"data": {"name": "d024"}, "mark": {"type": "line", "strokeWidth": 1, "clip": true}, "encoding": {"color": {"datum": "024", "type": "nominal"}}},
{"data": {"name": "d048"}, "mark": {"type": "line", "strokeWidth": 1, "clip": true}, "encoding": {"color": {"datum": "048", "type": "nominal"}}},
{"data": {"name": "d168"}, "mark": {"type": "line", "strokeWidth": 1, "clip": true}, "encoding": {"color": {"datum": "168", "type": "nominal"}}},
{"data": {"name": "labels"}, "mark": {"type": "text", "font": "Liberation Sans", "fontSize": 13, "fontWeight": "bold", "color": "#111", "align": "center", "baseline": "middle"},
 "encoding": {"text": {"field": "t", "type": "nominal"}}}
]
}
